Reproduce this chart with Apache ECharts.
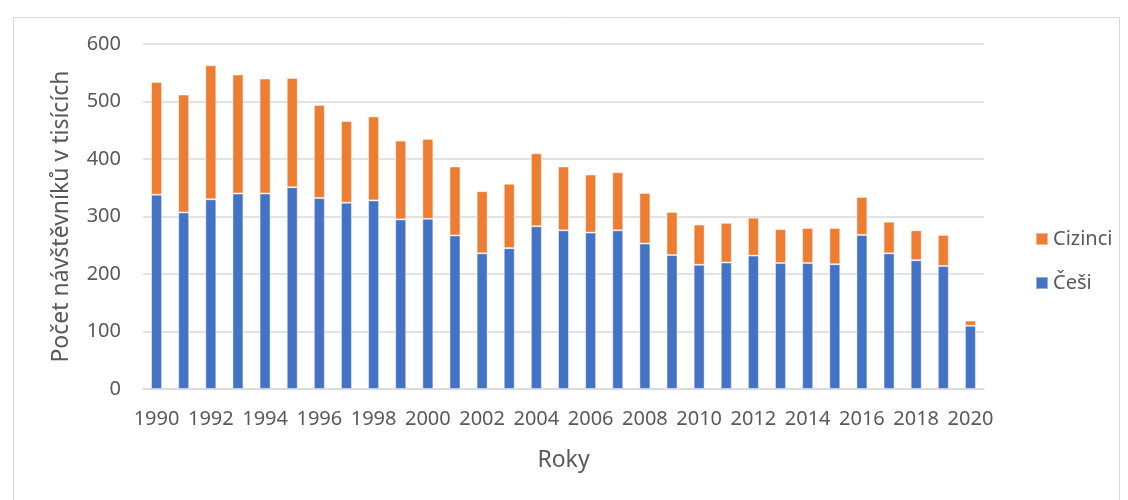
<!DOCTYPE html>
<html>
<head>
<meta charset="utf-8">
<script src="https://cdn.jsdelivr.net/npm/echarts@6/dist/echarts.min.js"></script>
<style>
  html, body { margin: 0; padding: 0; background: #ffffff; }
  #chart { width: 1128px; height: 500px; }
</style>
</head>
<body>
<div id="chart"></div>
<script>
const years = [
  '1990', '1991', '1992', '1993', '1994', '1995', '1996', '1997', '1998', '1999',
  '2000', '2001', '2002', '2003', '2004', '2005', '2006', '2007', '2008', '2009',
  '2010', '2011', '2012', '2013', '2014', '2015', '2016', '2017', '2018', '2019', '2020'
];

// visitors in thousands
const cesi = [
  338, 307, 330, 340, 340, 351, 332, 324, 328, 295,
  296, 267, 236, 245, 283, 276, 272, 276, 253, 233,
  216, 220, 232, 219, 219, 217, 268, 236, 224, 214, 110
];
const cizinci = [
  196, 205, 233, 207, 200, 190, 162, 142, 146, 137,
  139, 120, 108, 112, 127, 111, 101, 101, 88, 75,
  70, 69, 66, 59, 61, 63, 66, 55, 52, 54, 9
];

const FONT = 'Noto Sans, DejaVu Sans, sans-serif';
const TEXT = '#595959';
const GRID = '#d9d9d9';

const chart = echarts.init(document.getElementById('chart'), null, { renderer: 'canvas' });

chart.setOption({
  animation: false,
  backgroundColor: '#ffffff',
  graphic: [{
    type: 'rect',
    left: 11,
    top: 15,
    shape: { width: 1106, height: 500 },
    style: { fill: 'none', stroke: '#d9d9d9', lineWidth: 1 },
    silent: true
  }],
  grid: { left: 143, right: 144, top: 44, bottom: 111 },
  legend: {
    orient: 'vertical',
    left: 1030,
    top: 224,
    itemWidth: 12,
    itemHeight: 12,
    itemGap: 24,
    icon: 'rect',
    data: ['Cizinci', 'Češi'],
    textStyle: { color: TEXT, fontFamily: FONT, fontSize: 20 }
  },
  xAxis: {
    type: 'category',
    data: years,
    name: 'Roky',
    nameLocation: 'middle',
    nameGap: 60,
    nameTextStyle: { color: TEXT, fontFamily: FONT, fontSize: 23 },
    axisLine: { lineStyle: { color: GRID, width: 1.5 } },
    axisTick: { show: false },
    axisLabel: { interval: 1, color: TEXT, fontFamily: FONT, fontSize: 20, margin: 20 }
  },
  yAxis: {
    type: 'value',
    min: 0,
    max: 600,
    interval: 100,
    name: 'Počet návštěvníků v tisících',
    nameLocation: 'middle',
    nameGap: 70,
    nameTextStyle: { color: TEXT, fontFamily: FONT, fontSize: 23 },
    axisLine: { show: false },
    axisTick: { show: false },
    splitLine: { lineStyle: { color: GRID, width: 1.5 } },
    axisLabel: { color: TEXT, fontFamily: FONT, fontSize: 20, margin: 22 }
  },
  series: [
    {
      name: 'Češi',
      type: 'bar',
      stack: 'total',
      data: cesi,
      barWidth: 11,
      itemStyle: { color: '#4472c4', borderColor: 'rgba(255,255,255,0.45)', borderWidth: 1 }
    },
    {
      name: 'Cizinci',
      type: 'bar',
      stack: 'total',
      data: cizinci,
      barWidth: 11,
      itemStyle: { color: '#ed7d31', borderColor: 'rgba(255,255,255,0.45)', borderWidth: 1 }
    }
  ]
});
</script>
</body>
</html>
